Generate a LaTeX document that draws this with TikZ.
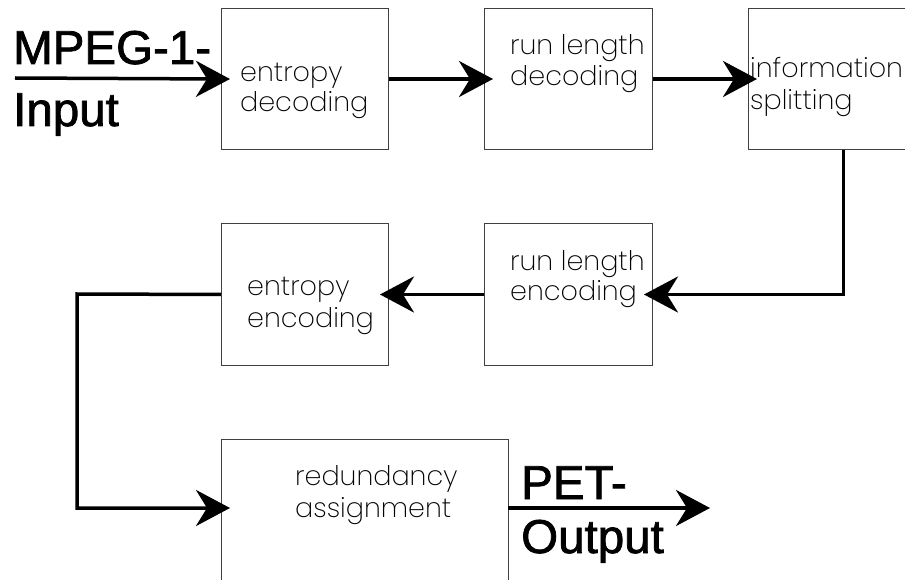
\documentclass[tikz,border=0pt]{standalone}
\usepackage{fontspec}
\setmainfont{Liberation Sans}
\newfontfamily\bigfont{Liberation Sans}[FakeBold=1.6]
\newfontfamily\boxfont{Poppins ExtraLight}
\usetikzlibrary{arrows.meta}
\tikzset{
  box/.style={draw=black!75, line width=1pt, anchor=north west, inner sep=0pt},
  lbl/.style={anchor=base west, inner sep=0pt, font=\boxfont\fontsize{27}{30}\selectfont, text=black},
  big/.style={anchor=base west, inner sep=0pt, font=\bigfont\fontsize{47.5}{50}\selectfont},
  arr/.style={line width=3.5pt, -{Stealth[length=34pt, width=36pt, inset=11pt]}, shorten >=-9pt},
  wire/.style={line width=3.5pt}
}
\begin{document}
\begin{tikzpicture}[x=1pt, y=-1pt]
\useasboundingbox (0,0) rectangle (905,580);
\clip (0,0) rectangle (905,580);
% boxes
\node[box, minimum width=167pt, minimum height=141pt] (b1) at (221,8) {};
\node[box, minimum width=168pt, minimum height=141pt] (b2) at (484,8) {};
\node[box, minimum width=190pt, minimum height=141pt] (b3) at (748,8) {};
\node[box, minimum width=167pt, minimum height=142pt] (b4) at (221,223) {};
\node[box, minimum width=168pt, minimum height=142pt] (b5) at (484,223) {};
\node[box, minimum width=287pt, minimum height=200pt] (b6) at (221,439) {};
% box texts
\node[lbl] (t1a) at (240,82) {entropy};
\node[lbl] (t1b) at (240,112) {decoding};
\node[lbl] (t2a) at (510,55) {run length};
\node[lbl] (t2b) at (510,86) {decoding};
\node[lbl] (t3a) at (750,78) {information};
\node[lbl] (t3b) at (750,110) {splitting};
\node[lbl] (t4a) at (247,295) {entropy};
\node[lbl] (t4b) at (247,327) {encoding};
\node[lbl] (t5a) at (510,270) {run length};
\node[lbl] (t5b) at (510,300) {encoding};
\node[lbl] (t6a) at (295,485) {redundancy};
\node[lbl] (t6b) at (295,517) {assignment};
% big labels
\node[big] (mpeg) at (13,64) {MPEG-1-};
\node[big] (inp) at (13,126) {Input};
\node[big] (pet) at (521,499) {PET-};
\node[big] (outp) at (521,553) {Output};
% coordinates
\coordinate (instart) at (15,78);
\coordinate (c1) at (77,294);
\coordinate (in6) at (221,508);
\coordinate (out6) at (508,508);
\coordinate (outend) at (710,508);
% connectors
\draw[arr] (instart) -- (b1.west);
\draw[arr] (b1.east) -- (b2.west);
\draw[arr] (b2.east) -- (b3.west);
\draw[arr] (b3.south) |- (b5.east);
\draw[arr] (b5.west) -- (b4.east);
\draw[arr] (b4.west) -- (c1) |- (in6);
\draw[arr, shorten >=0pt] (out6) -- (outend);
\end{tikzpicture}
\end{document}
